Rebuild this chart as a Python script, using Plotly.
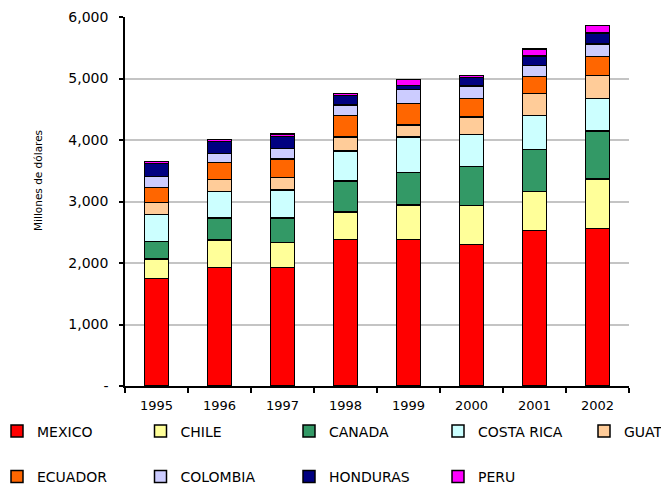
import plotly.graph_objects as go

years = ["1995", "1996", "1997", "1998", "1999", "2000", "2001", "2002"]
mexico = [1751, 1924, 1924, 2385, 2379, 2304, 2532, 2564]
chile = [314, 450, 406, 444, 564, 628, 634, 802]
canada = [288, 358, 402, 504, 525, 634, 677, 780]
costa_rica = [433, 427, 455, 488, 581, 527, 558, 532]
guatemala = [194, 201, 200, 228, 195, 281, 352, 374]
ecuador = [250, 277, 304, 346, 353, 304, 282, 303]
colombia = [173, 146, 168, 174, 227, 200, 173, 206]
honduras = [217, 189, 195, 151, 65, 135, 158, 179]
peru = [27, 39, 44, 33, 98, 39, 114, 124]

y_tickvals = [0, 1000, 2000, 3000, 4000, 5000, 6000]
y_ticktext = ["-", "1,000", "2,000", "3,000", "4,000", "5,000", "6,000"]

names = ["MEXICO", "CHILE", "CANADA", "COSTA RICA", "GUATEMALA",
         "ECUADOR", "COLOMBIA", "HONDURAS", "PERU"]
values = [mexico, chile, canada, costa_rica, guatemala,
          ecuador, colombia, honduras, peru]
colors = ["#FF0000", "#FFFF99", "#339966", "#CCFFFF", "#FFCC99",
          "#FF6600", "#CCCCFF", "#000080", "#FF00FF"]

# legend symbol centres (window px) for each entry
leg_cx = [19, 164.5, 313, 462, 608, 19, 164.5, 313, 462]
leg_cy = [431.5, 431.5, 431.5, 431.5, 431.5, 477, 477, 477, 477]

FONT = "DejaVu Sans"
OFF = 8           # page body margin
W, H = 669 - OFF, 489 - OFF
PL, PR, PT, PB = 125 - OFF, 629 - OFF, 17 - OFF, 386 - OFF   # plot area (figure px)

fig = go.Figure()
legends = {}
for i, (name, vals, color) in enumerate(zip(names, values, colors)):
    lid = "legend" if i == 0 else f"legend{i + 1}"
    fig.add_trace(go.Bar(
        x=years, y=vals, name=name, legend=lid,
        marker=dict(color=color, line=dict(color="black", width=1.5)),
    ))
    legends[lid] = dict(
        orientation="h", xref="container", yref="container",
        xanchor="left", yanchor="middle",
        x=max(0.0, (leg_cx[i] - 4 - 9 - OFF) / W),
        y=1 - (leg_cy[i] - OFF) / H,
        indentation=-11,
        font=dict(family=FONT, size=14, color="black"),
        bgcolor="rgba(0,0,0,0)", borderwidth=0,
    )

fig.add_annotation(
    text="Millones de dólares", textangle=-90,
    xref="paper", yref="paper",
    x=(38 - OFF - PL) / (PR - PL), y=1 - (181 - OFF - PT) / (PB - PT),
    xanchor="center", yanchor="middle", showarrow=False,
    font=dict(family=FONT, size=10.5, color="black"),
)

fig.update_layout(
    width=W, height=H,
    margin=dict(l=PL, r=W - PR, t=PT, b=H - PB, autoexpand=False),
    paper_bgcolor="white", plot_bgcolor="white",
    barmode="stack", bargap=0.62,
    showlegend=True,
    font=dict(family=FONT, size=13, color="black"),
    xaxis=dict(
        showline=True, linecolor="black", linewidth=1.5,
        ticks="outside", tickson="boundaries", ticklen=5, tickcolor="black", tickwidth=1.5,
        showgrid=False, ticklabelstandoff=7,
        tickfont=dict(family=FONT, size=13, color="black"),
    ),
    yaxis=dict(
        range=[0, 6000], tickvals=y_tickvals, ticktext=y_ticktext,
        showline=True, linecolor="black", linewidth=1.5,
        ticks="outside", ticklen=4, tickcolor="black", tickwidth=1.5,
        showgrid=True, gridcolor="#C4C4C4", gridwidth=1.5,
        zeroline=False, ticklabelstandoff=8,
        tickfont=dict(family=FONT, size=14, color="black"),
    ),
    **legends,
)

fig.write_html("out.html")
